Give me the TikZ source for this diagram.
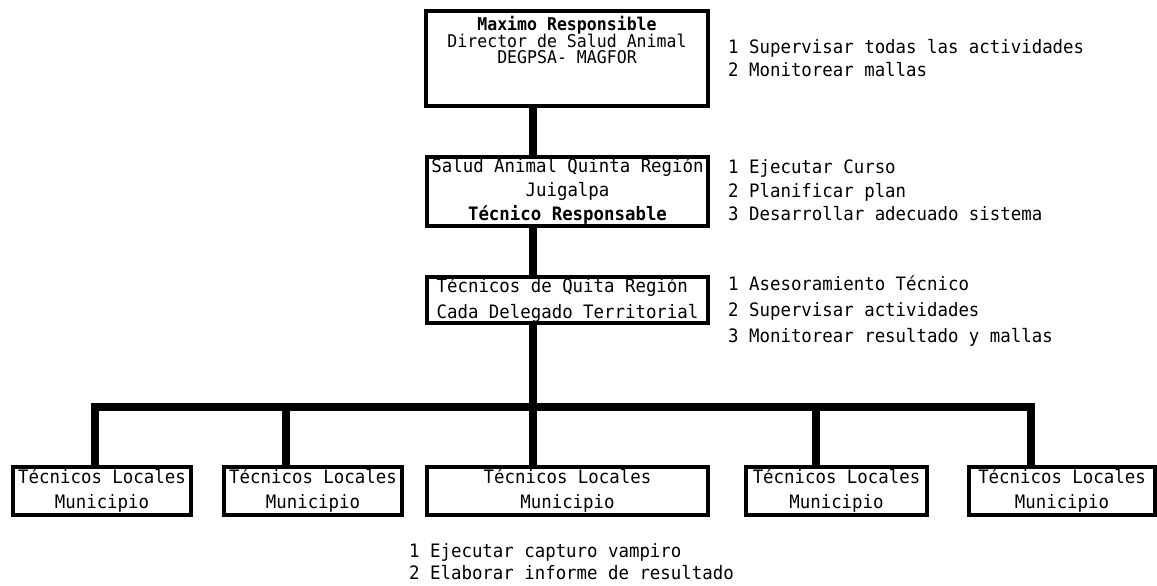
\documentclass[tikz,border=0pt]{standalone}
\usepackage{fontspec}
\setmainfont[FakeStretch=0.94]{DejaVu Sans Mono}
\newcommand{\fsz}[2][18.5]{\fontsize{#1pt}{#2pt}\selectfont\lineskiplimit=-50pt}
\tikzset{
  orgbox/.style={draw, line width=4pt, inner sep=0pt, align=center, anchor=north west},
  link/.style={line width=8pt},
  note/.style={align=left, anchor=west, inner sep=0pt}
}

\begin{document}
\begin{tikzpicture}[x=1pt,y=-1pt]
\useasboundingbox (0,0) rectangle (1157,586);
% cajas
\node[orgbox, minimum width=282pt, minimum height=95pt, font={\fsz[17.6]{16.5}}] (jefe) at (424,9) {\textbf{Maximo Responsible}\\Director de Salud Animal\\DEGPSA- MAGFOR\\[20pt]\mbox{}};
\node[orgbox, minimum width=281pt, minimum height=69pt, font=\fsz{24}] (region) at (425,155) {Salud Animal Quinta Región\\Juigalpa\\\textbf{Técnico Responsable}};
\node[orgbox, align=left, minimum width=281pt, minimum height=46pt, font=\fsz{26}] (delegado) at (425,275) {Técnicos de Quita Región\\Cada Delegado Territorial};
\node[orgbox, minimum width=178pt, minimum height=48pt, font=\fsz{25}] (m1) at (11,465) {Técnicos Locales\\Municipio};
\node[orgbox, minimum width=178pt, minimum height=48pt, font=\fsz{25}] (m2) at (222,465) {Técnicos Locales\\Municipio};
\node[orgbox, minimum width=281pt, minimum height=48pt, font=\fsz{25}] (m3) at (425,465) {Técnicos Locales\\Municipio};
\node[orgbox, minimum width=181pt, minimum height=48pt, font=\fsz{25}] (m4) at (744,465) {Técnicos Locales\\Municipio};
\node[orgbox, minimum width=186pt, minimum height=48pt, font=\fsz{25}] (m5) at (967,465) {Técnicos Locales\\Municipio};
% funciones
\node[note, font=\fsz{23}] (f1) at (728,58.5) {1 Supervisar todas las actividades\\2 Monitorear mallas};
\node[note, font=\fsz{23.5}] (f2) at (728,190.5) {1 Ejecutar Curso\\2 Planificar plan\\3 Desarrollar adecuado sistema};
\node[note, font=\fsz{26}] (f3) at (728,311) {1 Asesoramiento Técnico\\2 Supervisar actividades\\3 Monitorear resultado y mallas};
\node[note, font=\fsz{22}] (f4) at (409,562) {1 Ejecutar capturo vampiro\\2 Elaborar informe de resultado};
% lineas
\coordinate (b1) at (95,406.5);
\coordinate (b2) at (286,406.5);
\coordinate (b3) at (532.5,406.5);
\coordinate (b4) at (816,406.5);
\coordinate (b5) at (1031,406.5);
\draw[link] (jefe.south -| b3) -- (region.north -| b3);
\draw[link] (region.south -| b3) -- (delegado.north -| b3);
\draw[link] (delegado.south -| b3) -- (b3);
\draw[link] (m1.north -| b1) |- (b5) -- (m5.north -| b5);
\foreach \i in {2,3,4}
  \draw[link] (b\i) -- (m\i.north -| b\i);
\end{tikzpicture}
\end{document}
